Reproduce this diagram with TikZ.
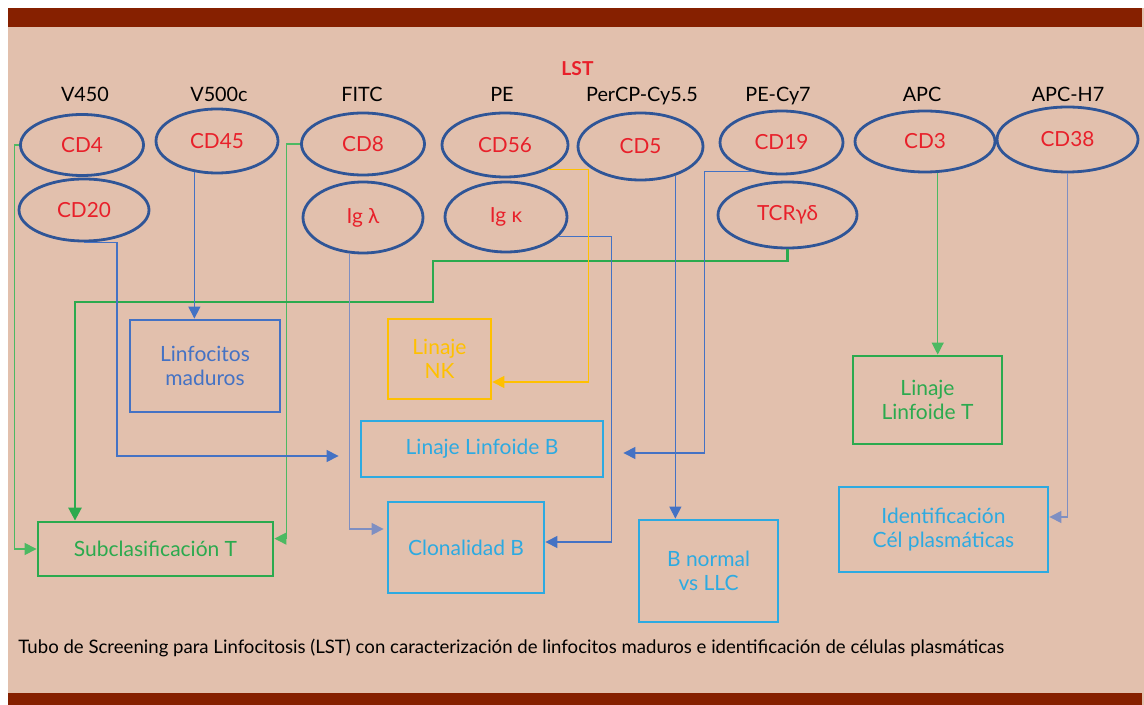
\documentclass[tikz,border=0pt]{standalone}
\usepackage{fontspec}
\setmainfont{Lato}
\usetikzlibrary{shapes.geometric,arrows.meta,calc}

\definecolor{fondo}{HTML}{E2C0AD}
\definecolor{barra}{HTML}{862000}
\definecolor{azulosc}{HTML}{2F5597}
\definecolor{rojo}{HTML}{E8202A}
\definecolor{azul}{HTML}{4472C4}
\definecolor{azulgris}{HTML}{7F8FC2}
\definecolor{celeste}{HTML}{2DAAE1}
\definecolor{verde}{HTML}{2BAA4E}
\definecolor{verdecl}{HTML}{4CB962}
\definecolor{amarillo}{HTML}{FFC000}

\tikzset{
  marcador/.style={ellipse, draw=azulosc, line width=1.4pt, text=rojo, inner sep=0pt, font=\fontsize{10.4}{12}\selectfont},
  canal/.style={anchor=base, font=\fontsize{9.9}{12}\selectfont},
  caja/.style={draw=#1, text=#1, line width=1.4pt, align=center, inner sep=0pt, font=\fontsize{10.5}{12}\selectfont},
  flecha/.style={-{Triangle[length=6pt,width=6pt]}, line width=0.6pt},
}

\begin{document}
\begin{tikzpicture}[x=0.5pt,y=-0.5pt]
			\useasboundingbox (0,0) rectangle (1144,705);
			\fill[fondo] (8,8) rectangle (1144,705);
			\fill[barra] (8,8) rectangle (1142,27);
			\fill[barra] (8,693) rectangle (1142,705);

			% fluorocromos
			\node[anchor=base, text=rojo, font=\fontsize{9.6}{11}\selectfont\bfseries] (lst) at (577.5,76) {LST};
			\node[canal] (v450) at (85,102) {V450};
			\node[canal] (v500) at (219,102) {V500c};
			\node[canal] (fitc) at (362,102) {FITC};
			\node[canal] (pe) at (502,102) {PE};
			\node[canal] (percp) at (642,102) {PerCP-Cy5.5};
			\node[canal] (pecy) at (778,102) {PE-Cy7};
			\node[canal] (apc) at (922,102) {APC};
			\node[canal] (apch) at (1068,102) {APC-H7};

			% marcadores
			\node[marcador, minimum width=61.5pt, minimum height=30.5pt] (cd4) at (82,145) {CD4};
			\node[marcador, minimum width=61pt, minimum height=32pt] (cd45) at (217,141) {CD45};
			\node[marcador, minimum width=61.5pt, minimum height=31pt] (cd8) at (363,144) {CD8};
			\node[marcador, minimum width=63pt, minimum height=32pt] (cd56) at (505,145) {CD56};
			\node[marcador, minimum width=62.5pt, minimum height=33.5pt] (cd5) at (640.5,146.5) {CD5};
			\node[marcador, minimum width=61.5pt, minimum height=31.5pt] (cd19) at (781.5,142.5) {CD19};
			\node[marcador, minimum width=70pt, minimum height=30.5pt] (cd3) at (925,141.5) {CD3};
			\node[marcador, minimum width=70.5pt, minimum height=32.5pt] (cd38) at (1067.5,139.5) {CD38};
			\node[marcador, minimum width=65pt, minimum height=31pt] (cd20) at (84,210) {CD20};
			\node[marcador, minimum width=60pt, minimum height=35.5pt] (igl) at (363,217.5) {Ig λ};
			\node[marcador, minimum width=61pt, minimum height=35pt] (igk) at (506,217) {Ig κ};
			\node[marcador, minimum width=69.5pt, minimum height=33pt] (tcr) at (787.5,215) {TCRγδ};

			% cajas
			\node[caja=azul, minimum width=75pt, minimum height=46pt] (linfmad) at (205,366) {Linfocitos\\maduros};
			\node[caja=verde, minimum width=117.5pt, minimum height=27pt] (subT) at (155.5,549) {Subclasificación T};
			\node[caja=amarillo, minimum width=51.5pt, minimum height=40pt] (nk) at (439.5,359) {Linaje\\NK};
			\node[caja=celeste, minimum width=121pt, minimum height=28pt] (linfB) at (482,449) {Linaje Linfoide B};
			\node[caja=celeste, minimum width=78pt, minimum height=45.5pt] (clonB) at (466,547.5) {Clonalidad B};
			\node[caja=celeste, minimum width=69.5pt, minimum height=51pt] (bnormal) at (708.5,571) {B normal\\vs LLC};
			\node[caja=verde, minimum width=74.5pt, minimum height=44pt] (linT) at (927.5,400) {Linaje\\Linfoide T};
			\node[caja=celeste, minimum width=104.5pt, minimum height=42.5pt] (ident) at (943.5,529.5) {Identificación\\Cél plasmáticas};

			% conexiones
			\draw[verdecl, flecha] (cd4.west) -- ++(-5,0) |- (subT.west);
			\draw[verdecl, flecha] (cd8.west) -- ++(-14,0) |- (subT.5);
			\draw[verde, line width=1.3pt, -{Triangle[length=6.5pt,width=6.5pt]}] (tcr.south) |- (433,261) |- (75,302) -- (75,302 |- subT.north);
			\draw[azul, flecha] (cd45.234) -- (cd45.234 |- linfmad.north);
			\draw[azul, flecha, shorten >=10.5pt] (cd20.south) -| (117,456) -- (117,456 -| linfB.west);
			\draw[azulgris, flecha, shorten >=1.5pt] (igl.250) |- ($(clonB.west)+(0,-18.5)$);
			\draw[azul, flecha] (igk.340) -| ($(clonB.east)+(66,-5.5)$) -- ($(clonB.east)+(0,-5.5)$);
			\draw[amarillo, flecha] (cd56.330) -| ($(nk.east)+(96,23)$) -- ($(nk.east)+(0,23)$);
			\draw[azul, flecha] (cd5.320) -- (cd5.320 |- bnormal.north);
			\draw[azul, flecha, shorten >=9.5pt] (cd19.225) -| ($(linfB.east)+(100,4)$) -- ($(linfB.east)+(0,4)$);
			\draw[verdecl, flecha] (cd3.292) -- (cd3.292 |- linT.north);
			\draw[azulgris, flecha] (cd38.south) |- ($(ident.east)+(0,-12.5)$);

			\node[anchor=base west, inner sep=0pt, font=\fontsize{9.3}{11}\selectfont] (pie) at (18,653) {Tubo de Screening para Linfocitosis (LST) con caracterización de linfocitos maduros e identificación de células plasmáticas};
\end{tikzpicture}
\end{document}
